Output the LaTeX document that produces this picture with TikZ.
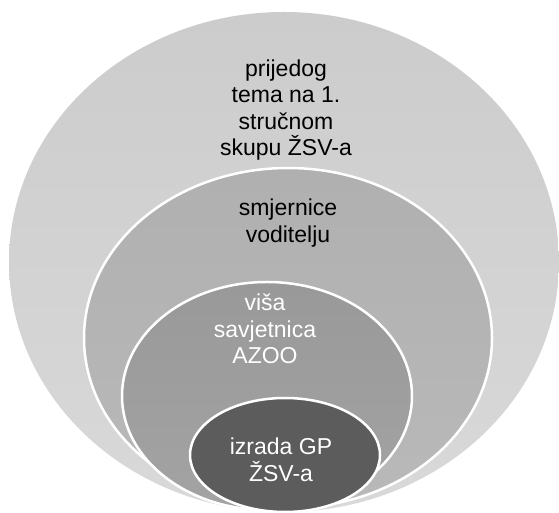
\documentclass[tikz,border=0pt]{standalone}
\usepackage{fontspec}
\setmainfont{Liberation Sans}
\usepackage{tikz}
\usetikzlibrary{shapes.geometric}
\tikzset{
  ringnode/.style = {ellipse, inner sep=0pt, draw=white, line width=2.5pt},
  ring_a/.style = {ringnode, draw=none, top color=gray!40, bottom color=gray!30,
    minimum width=550pt, minimum height=500pt},% vanjski krug
  ring_b/.style = {ringnode, top color=gray!62, bottom color=gray!55,
    minimum width=408pt, minimum height=340pt},% drugi krug
  ring_c/.style = {ringnode, top color=gray!80, bottom color=gray!72,
    minimum width=290pt, minimum height=228pt},% treci krug
  ring_d/.style = {ringnode, fill=gray!72!black,
    minimum width=190pt, minimum height=114pt},% unutarnji krug
  ringtext/.style = {align=center, inner sep=0pt,
    font=\fontsize{23}{26.5}\selectfont}
}
\begin{document}
\begin{tikzpicture}[x=1pt, y=1pt]
\useasboundingbox (0,0) rectangle (559,513);
\node [ring_a] (outer) at (284,251) {};
\node [ring_b] (second) at (288,175) {};
\node [ring_c] (third) at (267,117) {};
\node [ring_d] (inner) at (285,58) {};
\node [ringtext] (prijedog) at (286,403) {prijedog\\tema na 1.\\stručnom\\skupu ŽSV-a};
\node [ringtext] (smjernice) at (288,290) {smjernice\\voditelju};
\node [ringtext, white] (visa) at (265,184) {viša\\savjetnica\\AZOO};
\node [ringtext, white] (izrada) at (281,53) {izrada GP\\ŽSV-a};
\end{tikzpicture}
\end{document}
